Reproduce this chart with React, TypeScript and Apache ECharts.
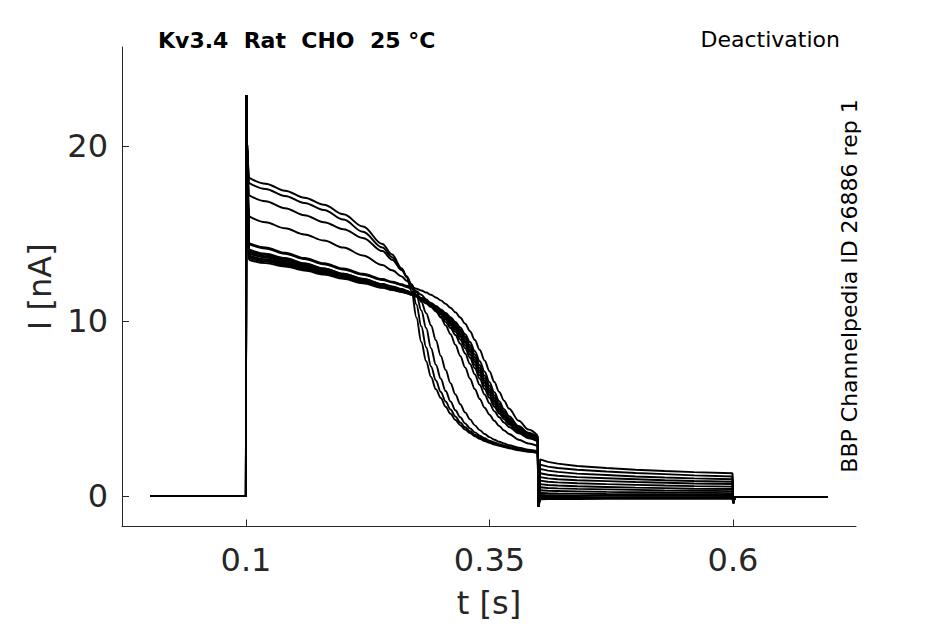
import React, { useEffect, useRef } from "react";
import * as echarts from "echarts";

// ---- data ----
const X_TICKS = [0.1, 0.35, 0.6];
const Y_TICKS = [0, 10, 20];

const ONSET_TIMES = [0.0015, 0.0999, 0.1004, 0.1012];
const ONSET_VALUES = [0, 0, 22.9, 19.8];

const MAIN_TIMES = [
  0.103, 0.12, 0.14, 0.16, 0.18, 0.2, 0.22, 0.24, 0.25, 0.26, 0.265, 0.27, 0.275, 0.28, 0.285, 0.29, 0.295, 0.3,
  0.305, 0.31, 0.315, 0.32, 0.325, 0.33, 0.335, 0.34, 0.345, 0.35, 0.355, 0.36, 0.365, 0.37, 0.38, 0.39, 0.3995,
];

const E1 = [18.2, 17.85, 17.45, 17.05, 16.65, 16.1, 15.4, 14.4, 13.8, 13.0, 12.5, 11.7, 10.2, 8.8, 7.7, 6.8, 6.1, 5.6, 5.1, 4.7, 4.35, 4.05, 3.8, 3.6, 3.42, 3.27, 3.15, 3.05, 2.95, 2.87, 2.8, 2.73, 2.62, 2.53, 2.45];
const E2 = [17.9, 17.55, 17.15, 16.75, 16.35, 15.8, 15.1, 14.2, 13.65, 12.95, 12.55, 12.0, 10.95, 9.7, 8.5, 7.4, 6.6, 5.95, 5.4, 4.95, 4.55, 4.2, 3.93, 3.7, 3.5, 3.35, 3.22, 3.1, 3.0, 2.92, 2.84, 2.77, 2.65, 2.56, 2.48];
const E3 = [17.2, 16.85, 16.45, 16.05, 15.65, 15.25, 14.75, 14.0, 13.5, 12.9, 12.55, 12.1, 11.5, 10.6, 9.6, 8.45, 7.5, 6.7, 6.0, 5.4, 4.9, 4.5, 4.15, 3.87, 3.64, 3.45, 3.3, 3.17, 3.06, 2.97, 2.89, 2.81, 2.69, 2.59, 2.51];
const E4 = [16.0, 15.65, 15.3, 14.95, 14.6, 14.2, 13.75, 13.2, 12.9, 12.55, 12.3, 12.05, 11.65, 11.1, 10.45, 9.75, 8.9, 8.0, 7.2, 6.45, 5.8, 5.25, 4.78, 4.38, 4.04, 3.77, 3.55, 3.37, 3.22, 3.1, 3.0, 2.91, 2.77, 2.65, 2.56];
const E5 = [14.4, 14.15, 13.85, 13.55, 13.25, 12.95, 12.65, 12.35, 12.2, 12.05, 11.95, 11.85, 11.7, 11.5, 11.25, 10.95, 10.6, 10.2, 9.75, 9.25, 8.65, 8.0, 7.35, 6.7, 6.1, 5.55, 5.05, 4.65, 4.3, 4.0, 3.75, 3.55, 3.22, 3.0, 2.85];
const L1 = [14.1, 13.85, 13.6, 13.3, 13.0, 12.7, 12.4, 12.1, 11.95, 11.8, 11.7, 11.55, 11.4, 11.2, 11.0, 10.8, 10.55, 10.25, 9.95, 9.6, 9.2, 8.7, 8.15, 7.55, 6.95, 6.35, 5.8, 5.3, 4.85, 4.5, 4.2, 3.95, 3.58, 3.3, 3.12];
const L2 = [14.0, 13.78, 13.55, 13.27, 13.0, 12.7, 12.42, 12.12, 11.98, 11.83, 11.73, 11.62, 11.48, 11.3, 11.1, 10.9, 10.65, 10.38, 10.08, 9.75, 9.38, 8.95, 8.45, 7.9, 7.3, 6.7, 6.12, 5.6, 5.1, 4.72, 4.38, 4.08, 3.66, 3.37, 3.18];
const L3 = [13.92, 13.7, 13.48, 13.2, 12.93, 12.65, 12.38, 12.08, 11.93, 11.8, 11.7, 11.6, 11.47, 11.3, 11.12, 10.93, 10.7, 10.45, 10.16, 9.85, 9.5, 9.1, 8.62, 8.08, 7.5, 6.9, 6.3, 5.76, 5.25, 4.84, 4.48, 4.16, 3.72, 3.42, 3.22];
const L4 = [13.85, 13.63, 13.4, 13.14, 12.88, 12.6, 12.33, 12.05, 11.9, 11.77, 11.67, 11.57, 11.45, 11.3, 11.13, 10.95, 10.74, 10.5, 10.23, 9.93, 9.6, 9.22, 8.76, 8.24, 7.66, 7.06, 6.46, 5.9, 5.38, 4.95, 4.57, 4.24, 3.77, 3.46, 3.25];
const L5 = [13.75, 13.53, 13.32, 13.07, 12.82, 12.55, 12.28, 12.0, 11.86, 11.73, 11.64, 11.55, 11.43, 11.29, 11.13, 10.96, 10.76, 10.54, 10.28, 9.99, 9.67, 9.3, 8.86, 8.35, 7.78, 7.18, 6.58, 6.02, 5.48, 5.04, 4.64, 4.3, 3.82, 3.49, 3.28];
const L6 = [13.68, 13.47, 13.26, 13.02, 12.77, 12.5, 12.23, 11.96, 11.82, 11.7, 11.61, 11.52, 11.41, 11.28, 11.13, 10.97, 10.78, 10.58, 10.34, 10.06, 9.76, 9.4, 8.98, 8.48, 7.92, 7.32, 6.72, 6.14, 5.6, 5.14, 4.72, 4.37, 3.86, 3.52, 3.3];
const L7 = [13.6, 13.4, 13.2, 12.96, 12.72, 12.46, 12.2, 11.93, 11.8, 11.68, 11.6, 11.51, 11.41, 11.29, 11.15, 11.0, 10.82, 10.62, 10.4, 10.14, 9.85, 9.5, 9.1, 8.62, 8.08, 7.48, 6.88, 6.3, 5.75, 5.26, 4.82, 4.45, 3.92, 3.56, 3.33];
const L8 = [13.5, 13.31, 13.12, 12.89, 12.66, 12.41, 12.16, 11.9, 11.77, 11.66, 11.58, 11.5, 11.41, 11.3, 11.17, 11.03, 10.86, 10.67, 10.46, 10.22, 9.95, 9.63, 9.25, 8.8, 8.28, 7.7, 7.1, 6.5, 5.93, 5.42, 4.96, 4.56, 4.0, 3.62, 3.37];
const L9 = [14.45, 14.2, 13.9, 13.6, 13.3, 13.0, 12.7, 12.4, 12.25, 12.1, 12.02, 11.94, 11.85, 11.75, 11.63, 11.5, 11.35, 11.18, 10.98, 10.76, 10.5, 10.2, 9.85, 9.42, 8.92, 8.35, 7.75, 7.13, 6.52, 5.95, 5.45, 5.0, 4.3, 3.8, 3.45];

const STEP_DIP_TIME = 0.4003;
const STEP_DIP_VALUE = -0.6;

const TAIL_TIMES = [0.402, 0.41, 0.42, 0.44, 0.47, 0.5, 0.53, 0.56, 0.5995];
const T1 = [2.1, 1.95, 1.85, 1.72, 1.6, 1.5, 1.43, 1.37, 1.3];
const T2 = [1.8, 1.68, 1.6, 1.5, 1.4, 1.32, 1.25, 1.18, 1.12];
const T3 = [1.55, 1.45, 1.38, 1.28, 1.2, 1.12, 1.06, 1.01, 0.96];
const T4 = [1.3, 1.22, 1.16, 1.08, 1.02, 0.96, 0.9, 0.86, 0.82];
const T5 = [1.08, 1.01, 0.96, 0.9, 0.85, 0.8, 0.76, 0.72, 0.69];
const T6 = [0.88, 0.82, 0.78, 0.73, 0.68, 0.64, 0.6, 0.57, 0.54];
const T7 = [0.68, 0.63, 0.6, 0.56, 0.52, 0.48, 0.45, 0.42, 0.4];
const T8 = [0.5, 0.46, 0.44, 0.41, 0.38, 0.35, 0.32, 0.3, 0.28];
const T9 = [0.33, 0.3, 0.29, 0.27, 0.24, 0.22, 0.2, 0.19, 0.17];
const T10 = [0.18, 0.16, 0.15, 0.14, 0.12, 0.11, 0.1, 0.09, 0.08];
const T11 = [0.06, 0.05, 0.05, 0.04, 0.03, 0.02, 0.02, 0.01, 0.0];
const T12 = [-0.05, -0.05, -0.05, -0.05, -0.06, -0.06, -0.06, -0.06, -0.06];
const T13 = [-0.12, -0.12, -0.12, -0.12, -0.12, -0.12, -0.12, -0.12, -0.12];
const T14 = [-0.18, -0.17, -0.17, -0.17, -0.16, -0.16, -0.16, -0.16, -0.16];

const OFF_TIMES = [0.6003, 0.602, 0.6975];
const OFF_VALUES = [-0.4, -0.06, -0.06];

const MAIN_TRACES = [E1, E2, E3, E4, E5, L1, L2, L3, L4, L5, L6, L7, L8, L9];
const TAIL_TRACES = [T14, T13, T12, T11, T10, T9, T8, T7, T6, T5, T4, T3, T2, T1];

const FONT = "DejaVu Sans";
const AXIS_COLOR = "#262626";
const TRACE_STYLE = { color: "#000", width: 1.9 };

function onsetPart(main: number[]): number[][] {
  const pts: number[][] = ONSET_TIMES.map((t, i) => [t, ONSET_VALUES[i]]);
  pts.push([MAIN_TIMES[0], main[0]]);
  return pts;
}
function mainPart(main: number[]): number[][] {
  return MAIN_TIMES.map((t, i) => [t, main[i]]);
}
function tailPart(main: number[], tail: number[]): number[][] {
  const pts: number[][] = [[MAIN_TIMES[MAIN_TIMES.length - 1], main[main.length - 1]]];
  pts.push([STEP_DIP_TIME, STEP_DIP_VALUE]);
  TAIL_TIMES.forEach((t, i) => pts.push([t, tail[i]]));
  OFF_TIMES.forEach((t, i) => pts.push([t, OFF_VALUES[i]]));
  return pts;
}

export default function App() {
  const ref = useRef<HTMLDivElement>(null);
  useEffect(() => {
    if (!ref.current) return;
    const chart = echarts.init(ref.current, undefined, { renderer: "svg" });
    const series: any[] = [];
    MAIN_TRACES.forEach((m, i) => {
      const base = { type: "line", showSymbol: false, symbol: "none", lineStyle: TRACE_STYLE, silent: true };
      series.push({ ...base, data: onsetPart(m) });
      series.push({ ...base, data: mainPart(m), smooth: 0.35, smoothMonotone: "x" });
      series.push({ ...base, data: tailPart(m, TAIL_TRACES[i]) });
    });
    chart.setOption({
      animation: false,
      grid: { left: 122, right: 89, top: 47, bottom: 97.5, containLabel: false },
      xAxis: {
        type: "value",
        min: -0.0273,
        max: 0.7263,
        name: "t [s]",
        nameLocation: "middle",
        nameGap: 60,
        nameTextStyle: { fontFamily: FONT, fontSize: 32, color: AXIS_COLOR },
        axisLine: { show: true, onZero: false, lineStyle: { color: AXIS_COLOR, width: 1 } },
        axisTick: { show: true, inside: true, length: 7, customValues: X_TICKS, lineStyle: { color: AXIS_COLOR } },
        axisLabel: {
          customValues: X_TICKS,
          margin: 17,
          fontFamily: FONT,
          fontSize: 32,
          color: AXIS_COLOR,
          formatter: (v: number) => String(v),
        },
        splitLine: { show: false },
      },
      yAxis: {
        type: "value",
        min: -1.74,
        max: 25.66,
        name: "I [nA]",
        nameLocation: "middle",
        nameGap: 66,
        nameTextStyle: { fontFamily: FONT, fontSize: 32, color: AXIS_COLOR },
        axisLine: { show: true, onZero: false, lineStyle: { color: AXIS_COLOR, width: 1 } },
        axisTick: { show: true, inside: true, length: 7, customValues: Y_TICKS, lineStyle: { color: AXIS_COLOR } },
        axisLabel: {
          customValues: Y_TICKS,
          margin: 14,
          fontFamily: FONT,
          fontSize: 32,
          color: AXIS_COLOR,
        },
        splitLine: { show: false },
      },
      graphic: [
        {
          type: "text",
          x: 158,
          y: 40,
          style: {
            text: "Kv3.4  Rat  CHO  25 °C",
            fontFamily: FONT,
            fontWeight: "bold",
            fontSize: 22,
            fill: "#000",
            align: "left",
            verticalAlign: "middle",
          },
        },
        {
          type: "text",
          x: 840,
          y: 39,
          style: {
            text: "Deactivation",
            fontFamily: FONT,
            fontSize: 22,
            fill: "#000",
            align: "right",
            verticalAlign: "middle",
          },
        },
        {
          type: "text",
          x: 849,
          y: 286,
          rotation: Math.PI / 2,
          style: {
            text: "BBP Channelpedia ID 26886 rep 1",
            fontFamily: FONT,
            fontSize: 22,
            fill: "#000",
            align: "center",
            verticalAlign: "middle",
          },
        },
      ],
      series,
    });
    return () => chart.dispose();
  }, []);
  return (
    <div
      ref={ref}
      style={{ position: "fixed", left: 0, top: 0, width: 945, height: 624, background: "#fff" }}
    />
  );
}
